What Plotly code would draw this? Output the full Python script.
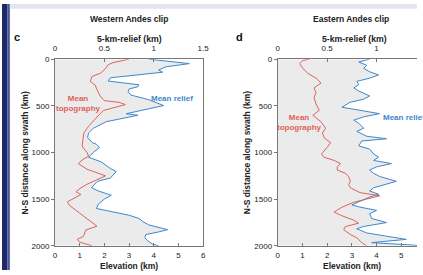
import plotly.graph_objects as go

# ---------------- data ----------------
west_relief_dist = [0, 14, 30, 48, 83, 117, 140, 175, 200, 235, 250, 275, 295, 320, 350, 385, 435, 497, 532, 567,
                    585, 601, 620, 670, 740, 791, 843, 895, 912, 946, 998, 1050, 1102, 1136, 1171, 1205, 1240, 1274,
                    1309, 1378, 1413, 1458, 1499, 1551, 1600, 1637, 1672, 1707, 1741, 1776, 1827, 1851, 1879, 1914,
                    1948, 1982, 2000]
west_relief = [0.95, 1.09, 1.22, 1.36, 1.12, 1.05, 1.09, 0.79, 0.56, 0.54, 0.66, 0.85, 0.84, 0.75, 0.74, 0.77, 0.95,
               1.1, 0.95, 0.79, 0.72, 0.84, 0.75, 0.52, 0.39, 0.34, 0.33, 0.38, 0.42, 0.45, 0.39, 0.34, 0.47, 0.51,
               0.56, 0.62, 0.59, 0.56, 0.43, 0.37, 0.44, 0.57, 0.5, 0.44, 0.42, 0.59, 0.75, 0.85, 0.89, 0.95, 1.14,
               1.05, 0.92, 0.91, 0.94, 0.99, 1.05]

west_topo_dist = [0, 15, 38, 60, 100, 150, 185, 240, 275, 325, 395, 445, 463, 487, 515, 550, 620, 720, 790, 860,
                  930, 970, 1000, 1040, 1080, 1120, 1180, 1250, 1290, 1340, 1380, 1420, 1450, 1480, 1530, 1570, 1650,
                  1720, 1790, 1830, 1860, 1900, 1930, 1960, 2000]
west_topo = [3.0, 2.7, 2.35, 2.15, 2.05, 1.85, 1.5, 1.43, 1.62, 1.7, 1.83, 2.0, 2.6, 2.85, 2.42, 1.96, 1.7, 1.36,
             1.17, 1.15, 1.1, 1.2, 1.3, 1.36, 1.1, 0.95, 1.3, 2.05, 1.7, 1.3, 1.05, 0.85, 1.05, 0.85, 0.5, 0.6, 1.0,
             1.35, 1.7, 1.25, 1.2, 1.15, 0.9, 1.0, 1.5]

east_relief_dist = [0, 14, 31, 66, 100, 135, 169, 204, 238, 273, 308, 342, 394, 428, 463, 515, 549, 584, 618, 653,
                    687, 740, 774, 826, 853, 877, 929, 964, 1016, 1050, 1085, 1119, 1154, 1188, 1223, 1257, 1309,
                    1344, 1378, 1413, 1447, 1482, 1534, 1562, 1585, 1620, 1655, 1707, 1751, 1793, 1817, 1862, 1897,
                    1931, 1966, 2000]
east_relief = [0.93, 0.87, 0.82, 0.90, 0.87, 0.93, 1.02, 0.93, 0.80, 0.82, 0.77, 0.82, 0.93, 0.87, 0.73, 0.65, 0.83,
               1.03, 0.87, 0.77, 0.82, 0.87, 0.80, 0.90, 1.10, 0.85, 0.82, 0.93, 0.97, 1.02, 0.97, 1.15, 1.0, 0.93,
               0.97, 1.03, 1.20, 1.07, 0.97, 0.93, 1.02, 0.92, 0.80, 0.75, 0.83, 1.0, 0.93, 0.95, 1.10, 0.87, 0.80,
               0.90, 1.10, 1.30, 0.95, 1.5]

east_topo_dist = [0, 14, 48, 100, 152, 204, 256, 308, 359, 411, 480, 549, 601, 670, 740, 791, 843, 895, 946, 1016,
                  1050, 1085, 1119, 1154, 1188, 1223, 1257, 1309, 1344, 1378, 1430, 1464, 1499, 1534, 1585, 1637,
                  1672, 1724, 1758, 1793, 1827, 1879, 1914, 1966, 2000]
east_topo = [1.28, 1.02, 0.89, 1.02, 1.22, 1.55, 1.75, 1.47, 1.55, 1.47, 1.55, 1.68, 1.42, 1.75, 1.94, 1.81, 1.88,
             2.14, 2.0, 1.77, 1.87, 2.28, 2.54, 2.41, 2.41, 2.74, 2.87, 2.94, 2.87, 2.94, 3.33, 4.13, 3.6, 3.07,
             2.61, 2.28, 2.54, 3.07, 3.27, 2.74, 2.67, 2.94, 3.2, 3.4, 3.6]

dist_ticks = [0, 500, 1000, 1500, 2000]
relief_ticks = [0, 0.5, 1, 1.5]
relief_ticktext = ["0", "0.5", "1", "1.5"]
elev_ticks = [0, 1, 2, 3, 4, 5, 6]

# ---------------- style ----------------
W, H = 423, 275
BLUE = "#3f87ca"
RED = "#de6258"
FILL = "#ebebeb"
AXC = "#777777"
TXT = "#222222"
FONT = "Liberation Sans, Arial, sans-serif"


def px(x):
    return x / W


def py(y):
    return 1 - y / H


ydom = [py(250), py(57)]

fig = go.Figure()
fig.add_trace(go.Scatter(x=west_relief, y=west_relief_dist, xaxis="x", yaxis="y", mode="lines",
                         line=dict(color=BLUE, width=1), fill="tozerox", fillcolor=FILL))
fig.add_trace(go.Scatter(x=west_topo, y=west_topo_dist, xaxis="x2", yaxis="y", mode="lines",
                         line=dict(color=RED, width=1)))
fig.add_trace(go.Scatter(x=east_relief, y=east_relief_dist, xaxis="x3", yaxis="y2", mode="lines",
                         line=dict(color=BLUE, width=1), fill="tozerox", fillcolor=FILL))
fig.add_trace(go.Scatter(x=east_topo, y=east_topo_dist, xaxis="x4", yaxis="y2", mode="lines",
                         line=dict(color=RED, width=1)))

common = dict(showgrid=False, zeroline=False, showline=True, linecolor=AXC, linewidth=1,
              tickcolor=AXC, ticklen=3, tickwidth=1, tickfont=dict(size=8, color=TXT, family=FONT))

fig.update_layout(
    width=W, height=H, margin=dict(l=0, r=0, t=0, b=0),
    paper_bgcolor="white", plot_bgcolor="white", showlegend=False,
    font=dict(family=FONT, size=8, color=TXT),
    xaxis=dict(domain=[px(54), px(205)], range=[0, 1.5], side="top", anchor="y",
               tickvals=relief_ticks, ticktext=relief_ticktext, ticks="inside", ticklabelstandoff=4, **common),
    xaxis2=dict(overlaying="x", side="bottom", anchor="y", range=[0, 6], tickvals=elev_ticks,
                ticks="inside", ticklabelstandoff=2, **common),
    yaxis=dict(domain=ydom, anchor="x", range=[2000, 0], tickvals=dist_ticks, ticks="outside",
               mirror=True, **common),
    xaxis3=dict(domain=[px(281), 1], range=[0, 142 / 100.8], side="top", anchor="y2",
                tickvals=relief_ticks, ticktext=relief_ticktext, ticks="inside", ticklabelstandoff=4, **common),
    xaxis4=dict(overlaying="x3", side="bottom", anchor="y2", range=[0, 142 / 25.2], tickvals=elev_ticks,
                ticks="inside", ticklabelstandoff=2, **common),
    yaxis2=dict(domain=ydom, anchor="x3", range=[2000, 0], tickvals=dist_ticks, ticks="outside",
                mirror=False, **common),
)

# frame decorations
fig.add_shape(type="rect", xref="paper", yref="paper", x0=0, x1=px(5.5), y0=0, y1=1,
              fillcolor="#1c2a6c", line_width=0)
fig.add_shape(type="rect", xref="paper", yref="paper", x0=px(5.5), x1=px(8), y0=0, y1=1,
              fillcolor="#4a5793", line_width=0)
fig.add_shape(type="rect", xref="paper", yref="paper", x0=px(8), x1=1, y0=py(5), y1=1,
              fillcolor="#e2e5ee", line_width=0)


def ann(text, x, y, size=8.5, color=TXT, bold=True, angle=0, xanchor="center"):
    t = f"<b>{text}</b>" if bold else text
    fig.add_annotation(text=t, x=px(x), y=py(y), xref="paper", yref="paper", showarrow=False,
                       xanchor=xanchor, yanchor="middle", textangle=angle,
                       font=dict(size=size, color=color, family=FONT))


# panel titles and labels
ann("Western Andes clip", 129, 16)
ann("Eastern Andes clip", 356, 16)
ann("c", 15, 34, size=11, color="#111")
ann("d", 242, 34, size=11, color="#111")
ann("5-km-relief (km)", 129.5, 36, size=8.7)
ann("5-km-relief (km)", 359, 36, size=8.7)
ann("Elevation (km)", 129, 270.5, size=8.5)
ann("Elevation (km)", 357, 270.5, size=8.5)
ann("N-S distance along swath (km)", 23, 154, size=8.5, angle=-90)
ann("N-S distance along swath (km)", 250, 154, size=8.5, angle=-90)

# series labels
ann("Mean<br>topography", 78, 103, size=8, color=RED)
ann("Mean relief", 173.5, 98, size=8, color=BLUE)
ann("Mean<br>topography", 303, 122, size=8, color=RED)
ann("Mean relief", 386, 117, size=8, color=BLUE, xanchor="left")

fig.write_html("out.html", config=dict(displayModeBar=False, staticPlot=True),
               post_script="document.body.style.margin='0';document.body.style.overflow='hidden';")
